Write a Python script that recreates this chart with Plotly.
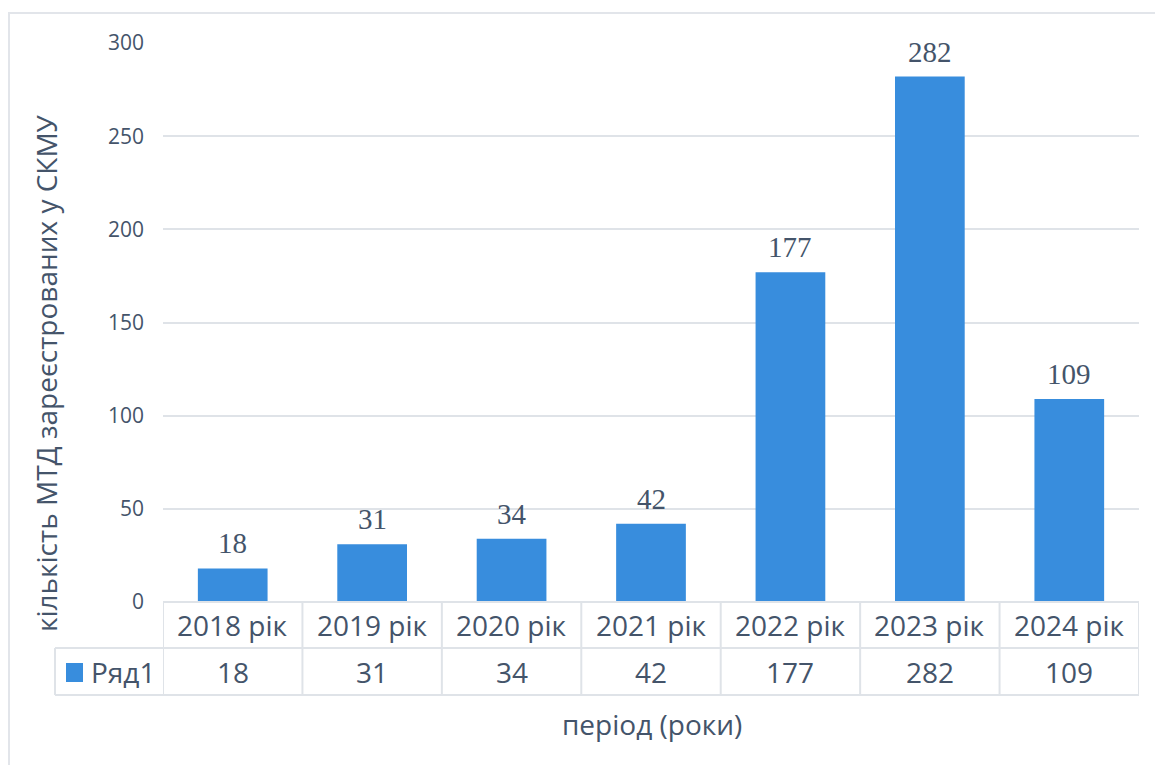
import plotly.graph_objects as go

# Data
categories = ["2018 рік", "2019 рік", "2020 рік", "2021 рік", "2022 рік", "2023 рік", "2024 рік"]
values = [18, 31, 34, 42, 177, 282, 109]
series_name = "Ряд1"
y_ticks = [0, 50, 100, 150, 200, 250, 300]

# Canvas / plot-area geometry (pixels)
W, H = 1155, 765
ML, MR, MT, MB = 163, 16, 43, 163
PW, PH = W - ML - MR, H - MT - MB

TEXT = "#44546A"
BAR = "#388DDD"
GRID = "#DFE3E8"
SANS = "Open Sans, Noto Sans, sans-serif"
SERIF = "Liberation Serif, Times New Roman, serif"
FS = 28


def px_x(x):
    return (x - ML) / PW


def px_y(y):
    return (H - MB - y) / PH


fig = go.Figure()
fig.add_trace(go.Bar(
    x=list(range(len(categories))), y=values, name=series_name,
    marker=dict(color=BAR, line=dict(width=0)), width=0.5,
    hoverinfo="y",
))

shapes = []
annotations = []

# Value labels above bars
for i, v in enumerate(values):
    annotations.append(dict(
        x=i, y=v, xref="x", yref="y", text=str(v), showarrow=False,
        yanchor="bottom", yshift=7,
        font=dict(family=SERIF, size=29, color=TEXT),
    ))

# Data table beneath the plot
row1_top, row1_bot, row2_bot = 602, 648, 695
line = dict(color=GRID, width=2)
n = len(categories)
shapes.append(dict(type="line", xref="paper", yref="paper",
                   x0=0, x1=1, y0=px_y(row1_top), y1=px_y(row1_top), line=line))
shapes.append(dict(type="line", xref="paper", yref="paper",
                   x0=px_x(55), x1=1, y0=px_y(row1_bot), y1=px_y(row1_bot), line=line))
shapes.append(dict(type="line", xref="paper", yref="paper",
                   x0=px_x(55), x1=1, y0=px_y(row2_bot), y1=px_y(row2_bot), line=line))
shapes.append(dict(type="line", xref="paper", yref="paper",
                   x0=px_x(55), x1=px_x(55), y0=px_y(row1_bot), y1=px_y(row2_bot), line=line))
for k in range(n + 1):
    shapes.append(dict(type="line", xref="x", yref="paper",
                       x0=k - 0.5, x1=k - 0.5, y0=px_y(row1_top), y1=px_y(row2_bot), line=line))

for i, (c, v) in enumerate(zip(categories, values)):
    annotations.append(dict(
        x=i, y=px_y((row1_top + row1_bot) / 2), xref="x", yref="paper", text=c,
        showarrow=False, xanchor="center", yanchor="middle",
        font=dict(family=SANS, size=FS, color=TEXT),
    ))
    annotations.append(dict(
        x=i, y=px_y((row1_bot + row2_bot) / 2), xref="x", yref="paper", text=str(v),
        showarrow=False, xanchor="center", yanchor="middle",
        font=dict(family=SANS, size=FS, color=TEXT),
    ))

# Legend key in the table
shapes.append(dict(type="rect", xref="paper", yref="paper",
                   x0=px_x(66), x1=px_x(83), y0=px_y(663), y1=px_y(682),
                   fillcolor=BAR, line=dict(width=0)))
annotations.append(dict(
    x=px_x(89), y=px_y((row1_bot + row2_bot) / 2), xref="paper", yref="paper",
    text=series_name, showarrow=False, xanchor="left", yanchor="middle",
    font=dict(family=SANS, size=FS, color=TEXT),
))

# Axis titles
annotations.append(dict(
    x=px_x(652), y=px_y(724), xref="paper", yref="paper", text="період (роки)",
    showarrow=False, xanchor="center", yanchor="middle",
    font=dict(family=SANS, size=FS, color=TEXT),
))
annotations.append(dict(
    x=px_x(46), y=px_y(373), xref="paper", yref="paper",
    text="кількість МТД зареєстрованих у СКМУ", textangle=-90,
    showarrow=False, xanchor="center", yanchor="middle",
    font=dict(family=SANS, size=FS, color=TEXT),
))

# Chart frame
shapes.append(dict(type="rect", xref="paper", yref="paper",
                   x0=px_x(9), x1=px_x(W + 20), y0=px_y(H + 20), y1=px_y(13),
                   line=dict(color="#E2E5EA", width=2), fillcolor="rgba(0,0,0,0)",
                   layer="below"))

fig.update_layout(
    width=W, height=H,
    margin=dict(l=ML, r=MR, t=MT, b=MB, autoexpand=False),
    paper_bgcolor="white", plot_bgcolor="white",
    showlegend=False,
    bargap=0.5,
    shapes=shapes, annotations=annotations,
    xaxis=dict(range=[-0.5, n - 0.5], showticklabels=False, showgrid=False,
               zeroline=False, showline=False, ticks="", fixedrange=True),
    yaxis=dict(range=[0, 300], tickvals=y_ticks, showgrid=True, gridcolor=GRID,
               gridwidth=2, zeroline=False, showline=False, ticks="",
               ticklabelstandoff=18,
               tickfont=dict(family=SANS, size=21, color=TEXT), fixedrange=True),
)

fig.write_html("out.html")
